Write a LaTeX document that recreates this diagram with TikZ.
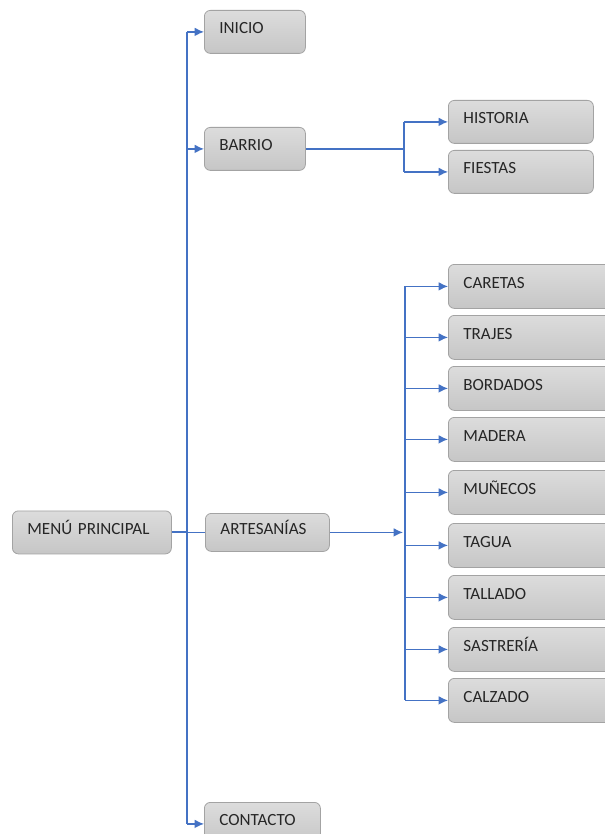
\documentclass[tikz,border=0pt]{standalone}
\usepackage{fontspec}
\setmainfont{Carlito}
\usetikzlibrary{arrows.meta}
\definecolor{lineblue}{HTML}{4472C4}
\definecolor{boxborder}{HTML}{A3A3A3}
\definecolor{boxtop}{HTML}{DCDCDC}
\definecolor{boxbot}{HTML}{C6C6C6}
\begin{document}
\begin{tikzpicture}[x=0.75pt,y=-0.75pt,
  box/.style 2 args={draw=boxborder, line width=0.6pt, rounded corners=4.5pt,
    top color=boxtop, bottom color=boxbot, anchor=north west,
    minimum width=#1*0.75pt, minimum height=#2*0.75pt,
    text width=#1*0.75pt-22.5pt, inner xsep=11.25pt, inner ysep=0pt, align=left,
    text=black!85, font=\fontsize{12.8}{14}\selectfont, text height=0.65em, text depth=4pt},
  conn/.style={draw=lineblue, line width=1pt},
  arr/.style={conn, -{Latex[length=7pt,width=6.5pt]}}]
\useasboundingbox (0,0) rectangle (604,834);
\fill[white] (0,0) rectangle (604,834);
% main nodes
\node[box={159}{43}] (menu) at (12,510.5) {MENÚ PRINCIPAL};
\node[box={101}{43}] (ini) at (204,10) {INICIO};
\node[box={101}{43}] (bar) at (204,127) {BARRIO};
\node[box={124}{38}] (art) at (205,513) {ARTESANÍAS};
\node[box={116}{43}] (con) at (204,802) {CONTACTO};
% barrio children
\node[box={145}{43}] (his) at (448,100) {HISTORIA};
\node[box={145}{43}] (fie) at (448,150) {FIESTAS};
% artesanias children
\node[box={190}{44}] (c1) at (448,264) {CARETAS};
\node[box={190}{44}] (c2) at (448,315) {TRAJES};
\node[box={190}{44}] (c3) at (448,366) {BORDADOS};
\node[box={190}{44}] (c4) at (448,417) {MADERA};
\node[box={190}{44}] (c5) at (448,470) {MUÑECOS};
\node[box={190}{44}] (c6) at (448,523) {TAGUA};
\node[box={190}{44}] (c7) at (448,575) {TALLADO};
\node[box={190}{44}] (c8) at (448,627) {SASTRERÍA};
\node[box={190}{44}] (c9) at (448,678) {CALZADO};
% trunk
\coordinate (tr) at (187,0);
\coordinate (sb) at (404,0);
\coordinate (sa) at (405,0);
\draw[conn] (ini.west -| tr) -- (con.west -| tr);
\draw[conn, line width=1.6pt] (menu.east) -- (menu.east -| tr);
\draw[conn] (menu.east -| tr) -- (art.west);
\foreach \n in {ini,bar,con}
  \draw[arr] (\n.west -| tr) -- (\n.west);
% barrio branch
\draw[conn] (bar.east) -- (bar.east -| sb);
\draw[conn] (his.west -| sb) -- (fie.west -| sb);
\foreach \n in {his,fie}
  \draw[arr] (\n.west -| sb) -- (\n.west);
% artesanias branch
\draw[arr] (art.east) -- ([xshift=-1.5pt]art.east -| sa);
\draw[conn] (c1.west -| sa) -- (c9.west -| sa);
\foreach \n in {c1,c2,c3,c4,c5,c6,c7,c8,c9}
  \draw[arr] (\n.west -| sa) -- (\n.west);
\end{tikzpicture}
\end{document}
